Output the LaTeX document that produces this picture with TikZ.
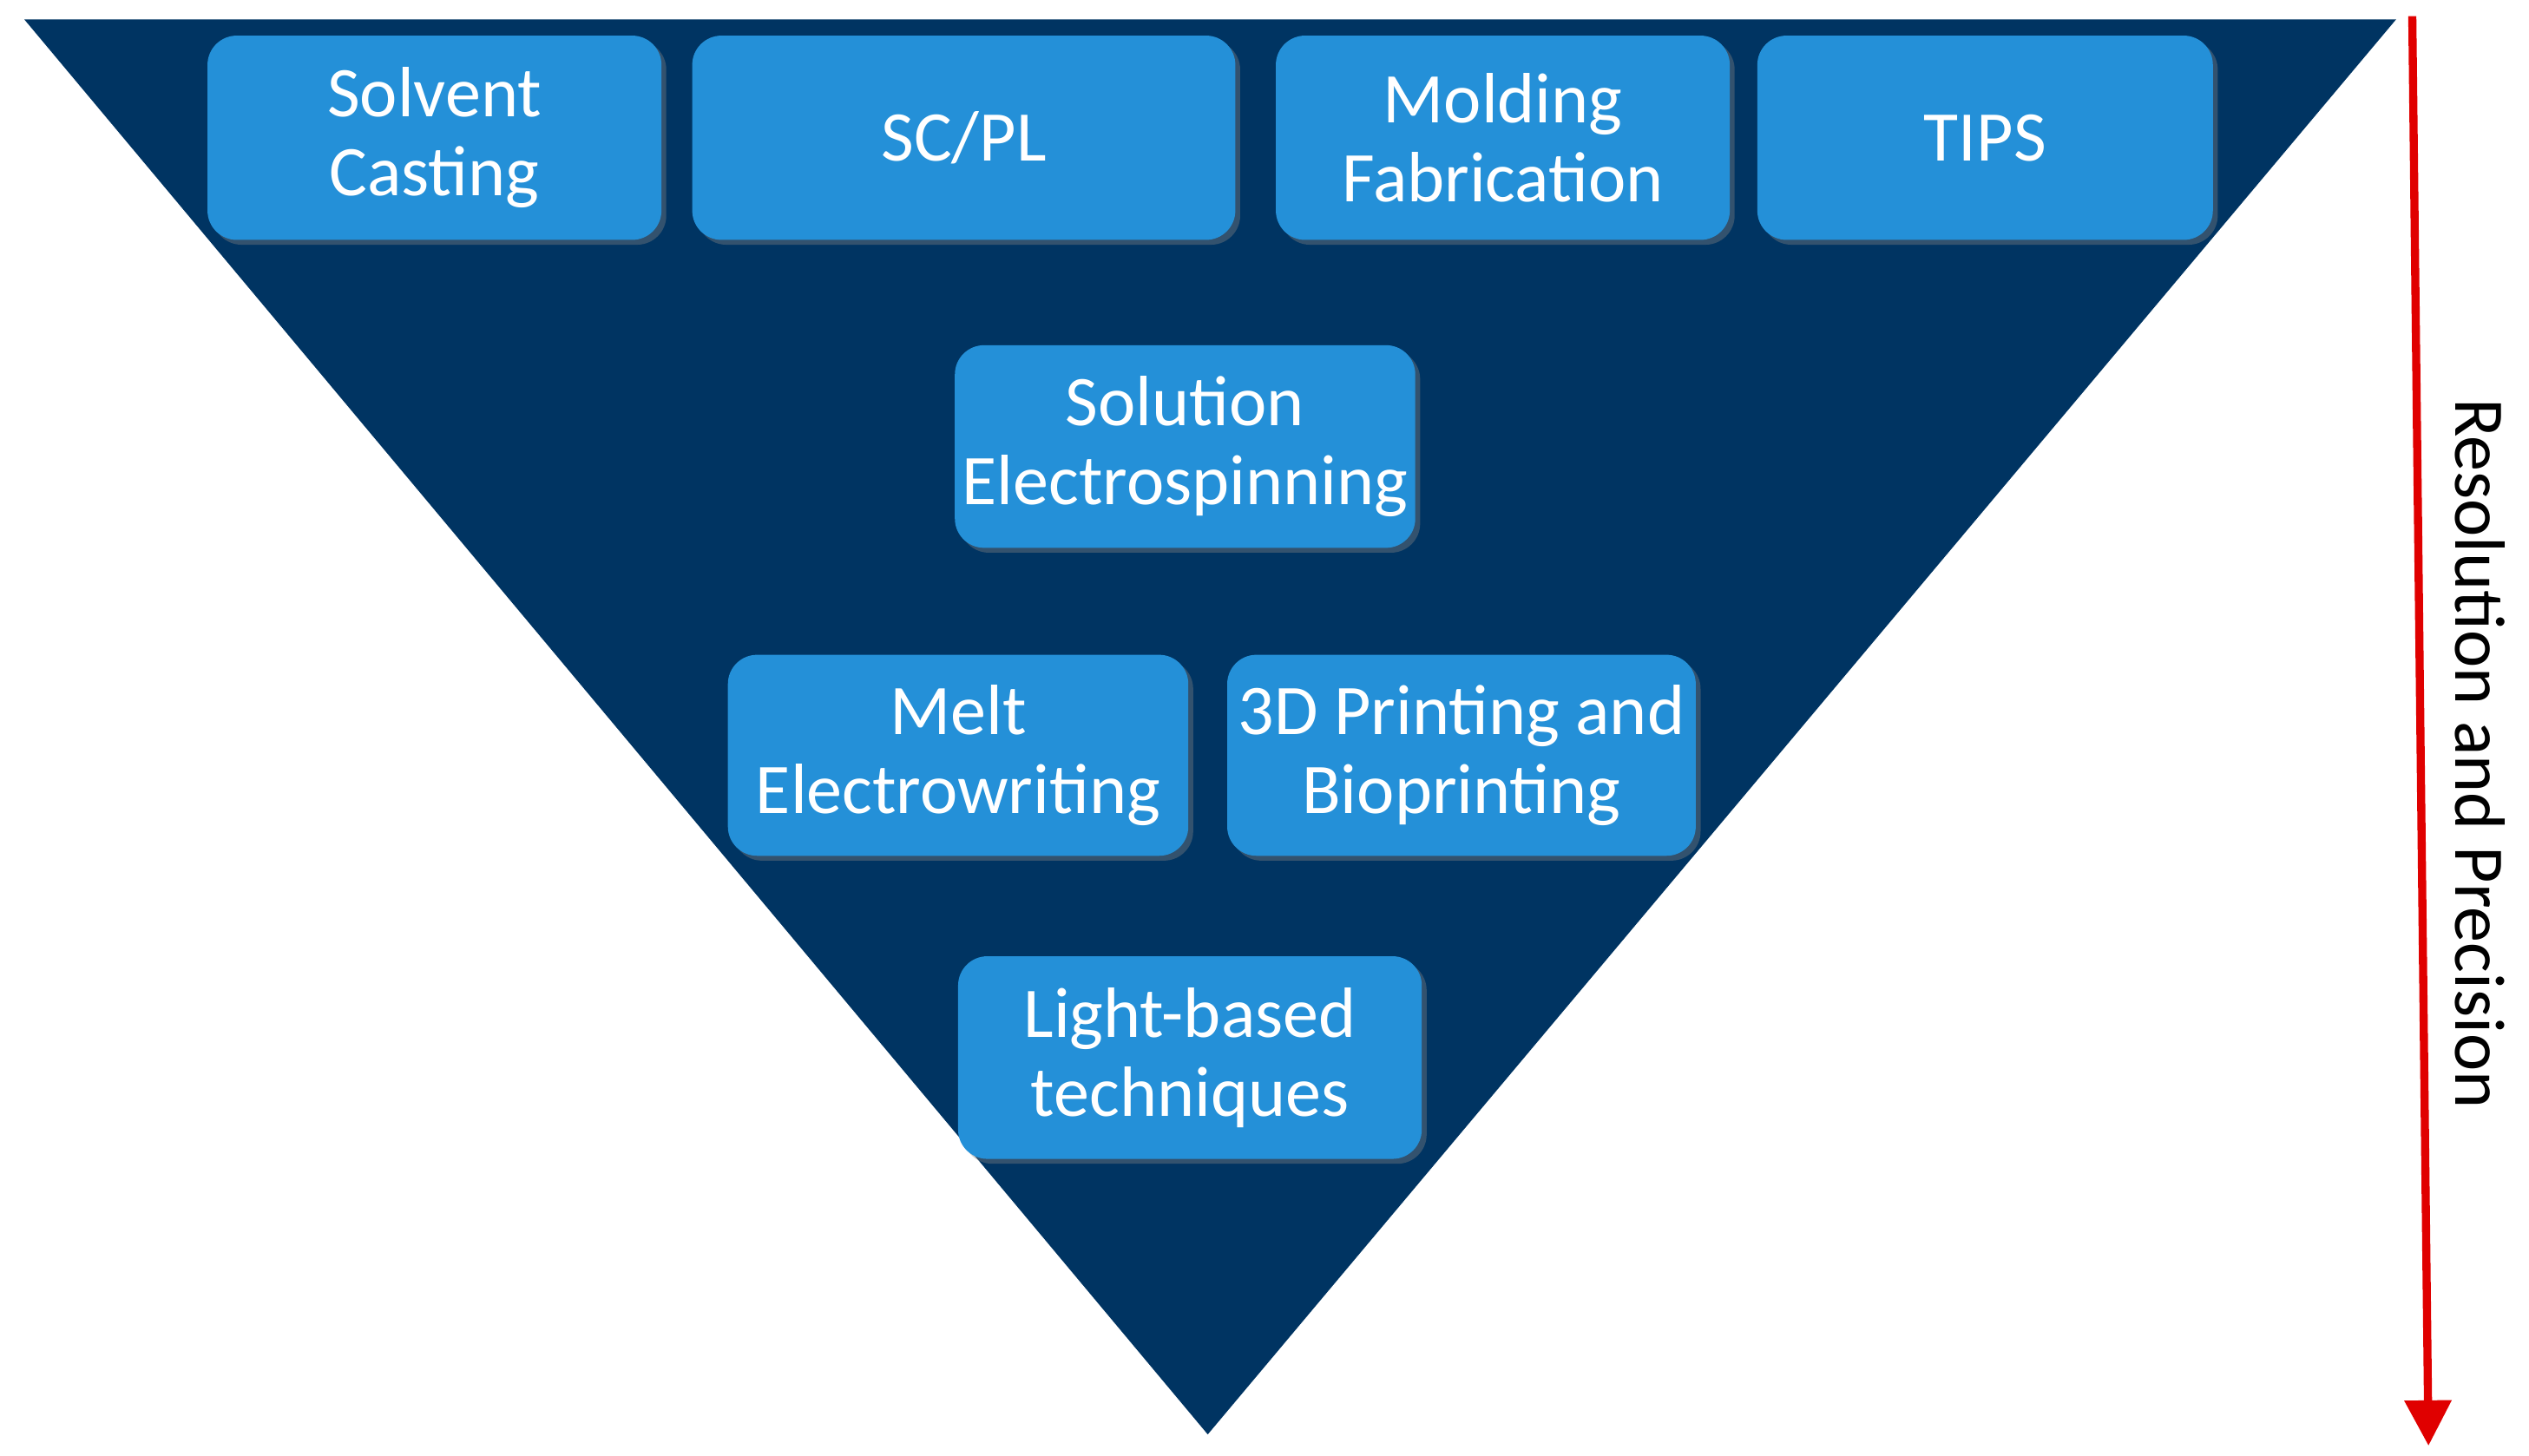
\documentclass[tikz,border=0pt]{standalone}
\usepackage{fontspec}
\setmainfont{Carlito}
\usetikzlibrary{shadows,arrows.meta}
\definecolor{tri}{HTML}{003462}
\definecolor{boxc}{HTML}{2490D8}
\definecolor{arr}{HTML}{E00000}
\begin{document}
\begin{tikzpicture}[x=0.01cm,y=-0.01cm,
  box/.style={draw=none,fill=boxc,rounded corners=0.18cm,text=white,align=center,
    font=\fontsize{12.5}{13.8}\selectfont,inner sep=0pt,
    drop shadow={shadow xshift=0.03cm,shadow yshift=-0.03cm,opacity=0.4}}]
\useasboundingbox (0,0) rectangle (1560,898);
\fill[tri] (15,12) -- (1478,12) -- (745,885) -- cycle;
\newcommand{\bx}[6]{\node[box,minimum width=#4*0.01cm-#2*0.01cm,minimum height=#5*0.01cm-#3*0.01cm] (#1) at ({(#2+#4)/2},{(#3+#5)/2}) {#6};}
\bx{sc}{128}{22}{408}{148}{Solvent\\Casting}
\bx{scpl}{427}{22}{762}{148}{SC/PL}
\bx{mf}{787}{22}{1067}{148}{Molding\\Fabrication}
\bx{tips}{1084}{22}{1365}{148}{TIPS}
\bx{se}{589}{213}{873}{338}{Solution\\Electrospinning}
\bx{me}{449}{404}{733}{528}{Melt\\Electrowriting}
\bx{dp}{757}{404}{1046}{528}{3D Printing and\\Bioprinting}
\bx{lb}{591}{590}{877}{715}{Light-based\\techniques}
\coordinate (a1) at (1488,10);
\coordinate (a2) at (1498,892);
\draw[arr,line width=0.05cm,-{Triangle[length=0.28cm,width=0.28cm]}] (a1) -- (a2);
\node[rotate=-90,font=\fontsize{12.5}{14}\selectfont] (lab) at (1530,465) {Resolution and Precision};
\end{tikzpicture}
\end{document}
